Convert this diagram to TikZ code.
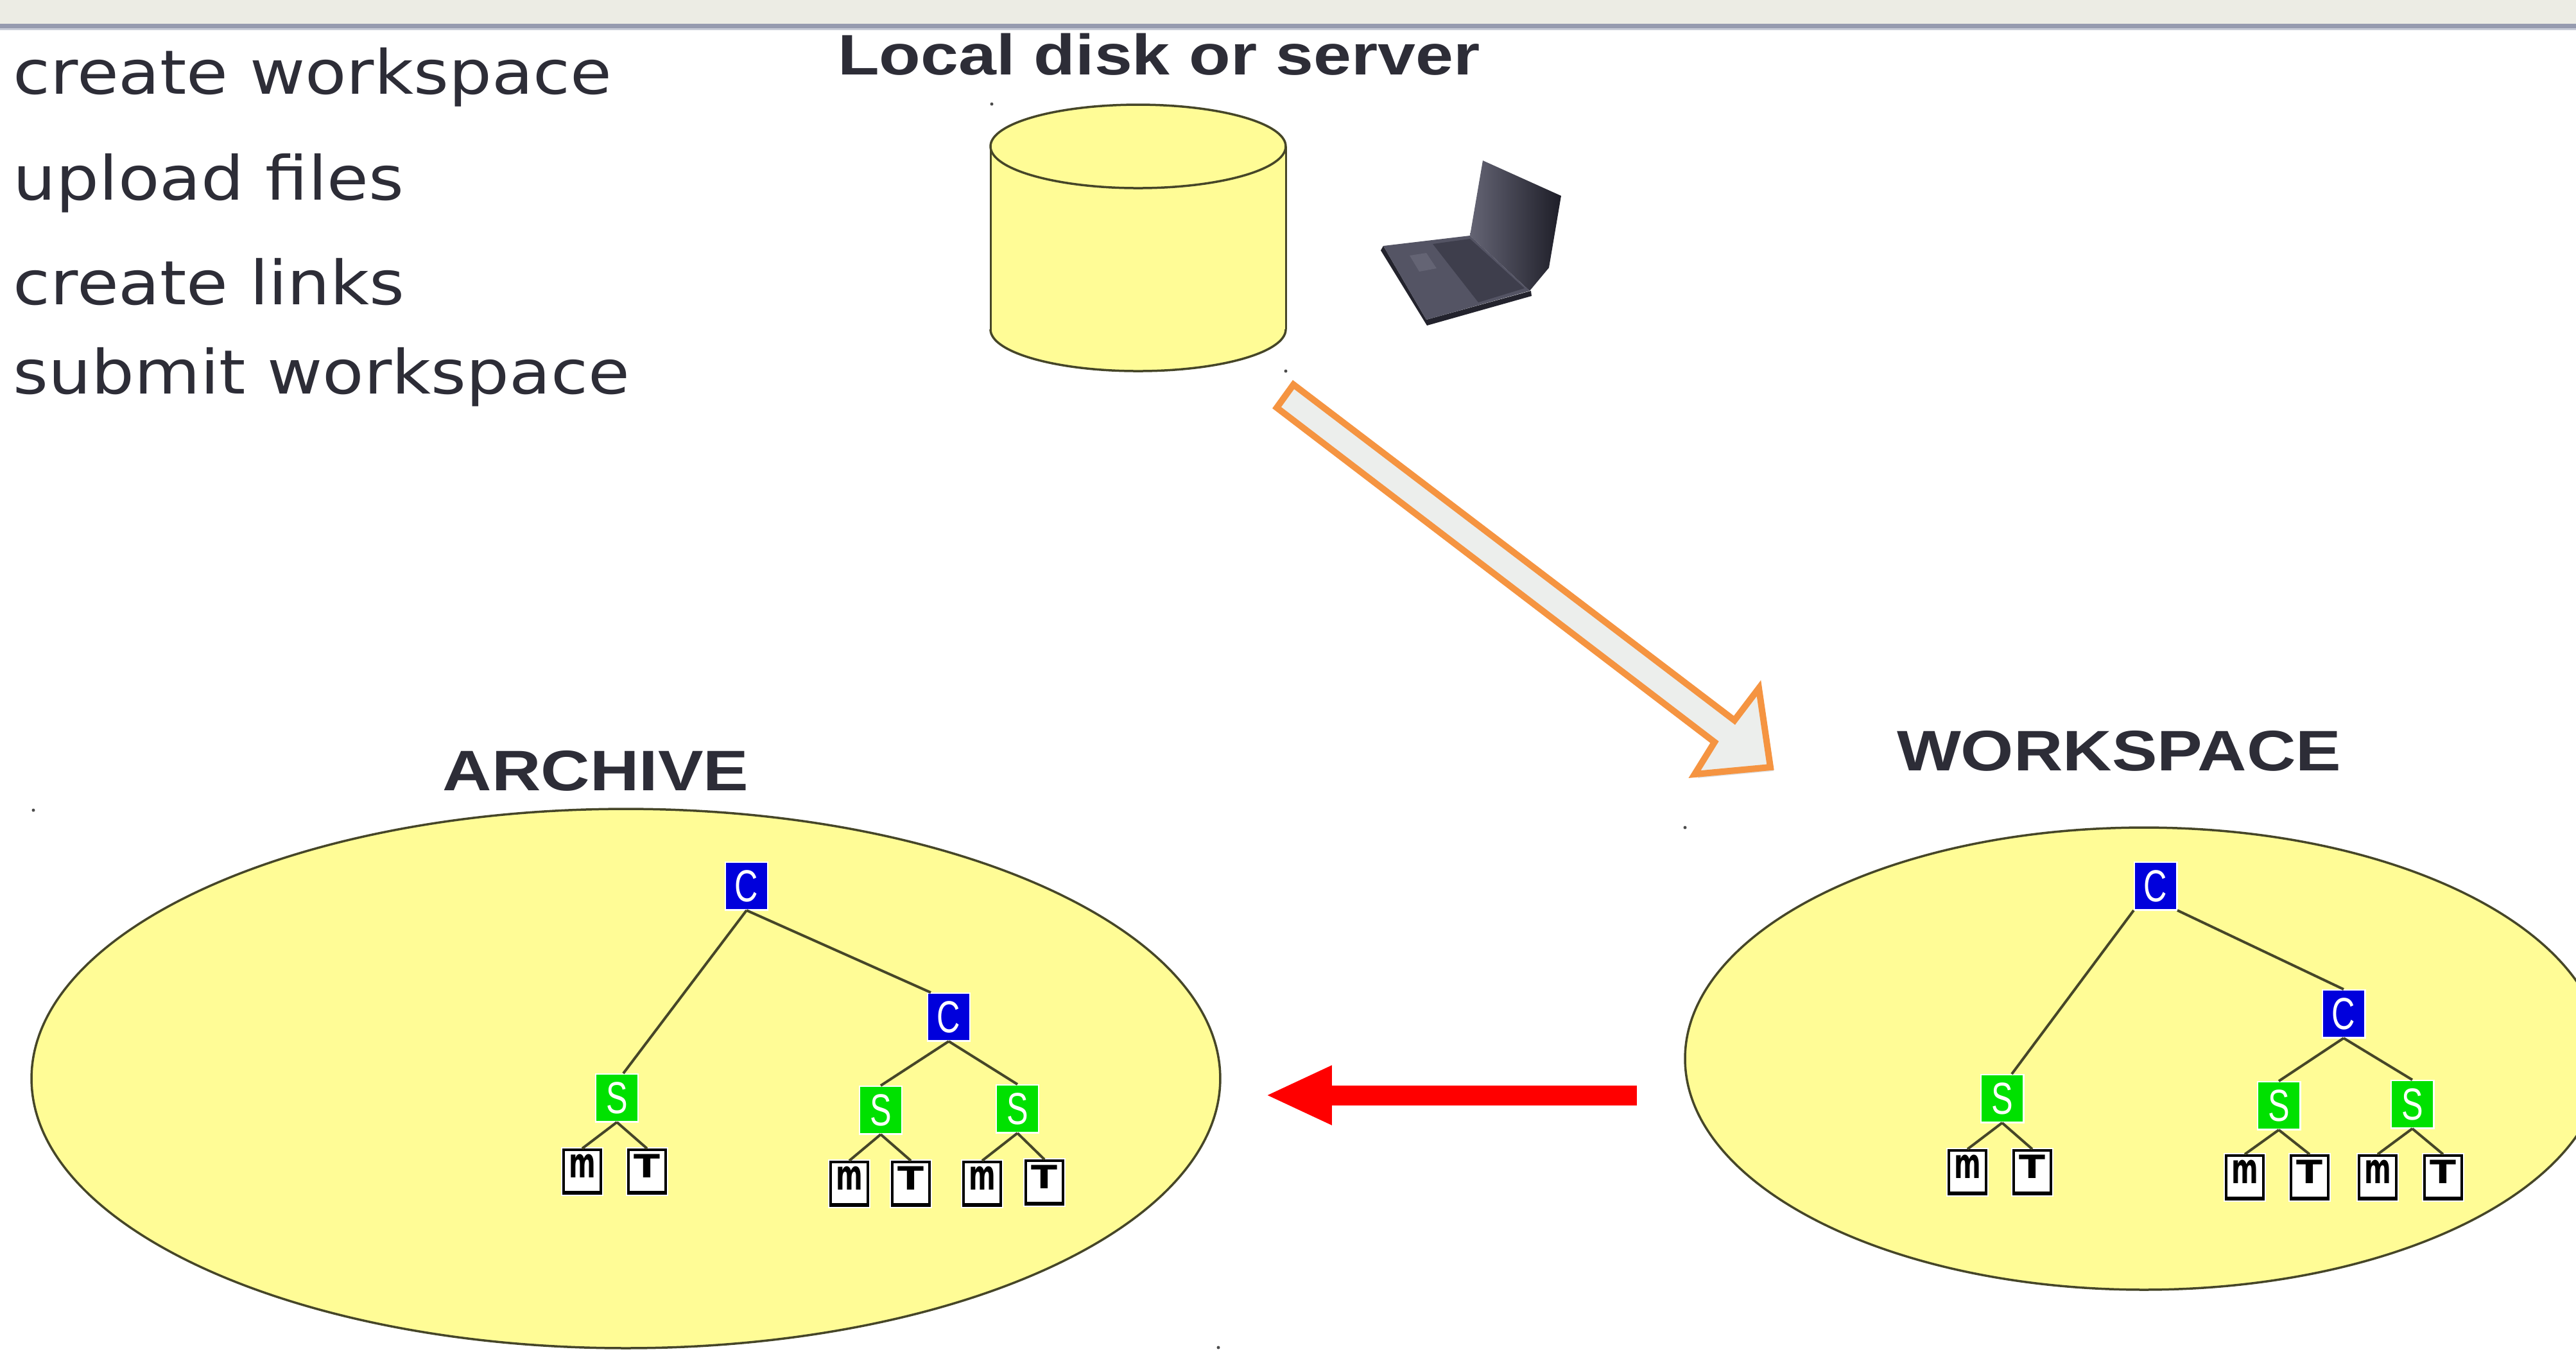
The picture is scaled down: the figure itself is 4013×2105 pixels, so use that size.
\documentclass[tikz,border=0pt]{standalone}
\usepackage{fontspec}
\usepackage{graphicx}
\usetikzlibrary{shapes.geometric,arrows.meta}
\newfontfamily\lblfont[FakeStretch=1.11]{DejaVu Sans}
\newfontfamily\ttlfont[FakeStretch=1.19]{Liberation Sans}
\newfontfamily\treefont[FakeStretch=0.72]{Liberation Sans}
\newfontfamily\leaffont{DejaVu Sans}
\definecolor{txt}{RGB}{45,45,55}
\definecolor{yel}{RGB}{255,252,150}
\definecolor{olivec}{RGB}{70,70,40}
\definecolor{cblue}{RGB}{0,0,220}
\definecolor{sgreen}{RGB}{0,225,0}
\definecolor{barc}{RGB}{236,236,228}
\definecolor{barline}{RGB}{150,155,175}
\definecolor{barlight}{RGB}{200,204,215}
\definecolor{orng}{RGB}{245,148,65}
\definecolor{arrfill}{RGB}{236,238,236}
\definecolor{redc}{RGB}{255,0,0}
\definecolor{lapA}{RGB}{100,100,116}
\definecolor{lapB}{RGB}{30,30,40}
\definecolor{lapBase}{RGB}{84,84,100}
\definecolor{lapKey}{RGB}{62,62,76}
\definecolor{lapDark}{RGB}{35,35,45}
\newcommand{\leafm}{\raisebox{-0.9pt}[0pt][0pt]{\scalebox{0.8}[1.3]{m}}}
\newcommand{\leafT}{\raisebox{-0.9pt}[0pt][0pt]{\scalebox{1.2}[1]{T}}}
\begin{document}
\begin{tikzpicture}[x=0.1pt,y=-0.1pt,
  lbl/.style={anchor=base west, inner sep=0, text=txt, font=\lblfont\fontsize{9.5}{11}\selectfont},
  ttl/.style={anchor=base west, inner sep=0, text=txt, font=\ttlfont\bfseries\fontsize{8.9}{10}\selectfont},
  cnode/.style={fill=cblue, text=white, minimum width=6.4pt, minimum height=7.2pt, inner sep=0,
    font=\treefont\fontsize{7}{8}\selectfont, preaction={draw=white,line width=0.5pt}},
  snode/.style={cnode, fill=sgreen},
  leaf/.style={fill=white, draw=black, line width=0.4pt, minimum width=5.8pt, minimum height=6.8pt, inner sep=0,
    font=\leaffont\bfseries\fontsize{5}{6}\selectfont, preaction={draw=white,line width=0.8pt},
    path picture={\draw[line width=0.8pt] (path picture bounding box.south west) -- (path picture bounding box.south east);}},
  treeline/.style={draw=olivec, line width=0.4pt},
  blob/.style={draw=olivec, line width=0.35pt, fill=yel, ellipse, inner sep=0},
  handle/.style={fill=black!70},
]
\useasboundingbox (0,0) rectangle (4013,2105);
\fill[white] (0,0) rectangle (4013,2105);
\clip (0,0) rectangle (4013,2105);

% top bar
\fill[barc] (0,0) rectangle (4013,37);
\fill[barline] (0,37) rectangle (4013,44);
\fill[barlight] (0,44) rectangle (4013,47);

% left texts
\node[lbl] (t1) at (19,146) {create workspace};
\node[lbl] (t2) at (19,311) {upload files};
\node[lbl] (t3) at (19,474) {create links};
\node[lbl] (t4) at (19,613) {submit workspace};

% titles
\node[ttl] (tdisk) at (1303,116) {Local disk or server};
\node[ttl] (tarch) at (688,1231) {ARCHIVE};
\node[ttl] (twork) at (2953,1200) {WORKSPACE};

% cylinder
\fill[yel] (1773,513) ellipse[x radius=230, y radius=65];
\fill[yel] (1543,228) rectangle (2003,513);
\draw[olivec, line width=0.3pt] (1543,228) -- (1543,513);
\draw[olivec, line width=0.3pt] (2003,228) -- (2003,513);
\begin{scope}
  \clip (1500,513) rectangle (2050,620);
  \draw[olivec, line width=0.35pt] (1773,513) ellipse[x radius=230, y radius=65];
\end{scope}
\node[blob, minimum width=46pt, minimum height=13pt] (disktop) at (1773,228) {};
\fill[handle] (1545,162) circle[radius=2.5];
\fill[handle] (2003,578) circle[radius=2.5];

% laptop
\shade[left color=lapA, right color=lapB] (2310,250) -- (2432,305) -- (2413,417) -- (2383,453) -- (2290,367) -- cycle;
\fill[lapDark] (2155,383) -- (2222,498) -- (2385,453) -- (2386,461) -- (2223,507) -- (2151,390) -- cycle;
\fill[lapBase] (2155,383) -- (2290,367) -- (2383,453) -- (2222,498) -- cycle;
\fill[lapKey] (2232,380) -- (2290,372) -- (2375,449) -- (2303,471) -- cycle;
\fill[lapA] (2196,398) -- (2222,394) -- (2238,418) -- (2211,423) -- cycle;

% orange hollow arrow
\coordinate (oa1) at (2015,599);
\coordinate (oa2) at (2702,1122);
\coordinate (oa3) at (2740,1072);
\coordinate (oa4) at (2758,1195);
\coordinate (oa5) at (2640,1206);
\coordinate (oa6) at (2671,1156);
\coordinate (oa7) at (1989,635);
\fill[black, opacity=0.12] ([shift={(5,6)}]oa1) -- ([shift={(5,6)}]oa2) -- ([shift={(5,6)}]oa3) -- ([shift={(5,6)}]oa4) -- ([shift={(5,6)}]oa5) -- ([shift={(5,6)}]oa6) -- ([shift={(5,6)}]oa7) -- cycle;
\draw[orng, line width=1pt, fill=arrfill, line join=miter] (oa1) -- (oa2) -- (oa3) -- (oa4) -- (oa5) -- (oa6) -- (oa7) -- cycle;

% ellipses
\node[blob, minimum width=185.2pt, minimum height=84pt] (archive) at (975,1680) {};
\node[blob, minimum width=143pt, minimum height=72pt] (workspace) at (3340,1649) {};
\fill[handle] (52,1262) circle[radius=2.5];
\fill[handle] (1898,2099) circle[radius=2.5];
\fill[handle] (2625,1289) circle[radius=2.5];

% red arrow
\coordinate (redtail) at (2550,1706);
\coordinate (redtip) at (1971,1706);
\draw[redc, line width=3.1pt, -{Triangle[length=10.4pt, width=8.5pt]}] (redtail) -- (redtip);

% archive tree
\node[cnode] (aC1) at (1163,1380) {C};
\node[cnode] (aC2) at (1478,1584) {C};
\node[snode] (aS1) at (961,1710) {S};
\node[snode] (aS2) at (1372,1729) {S};
\node[snode] (aS3) at (1585,1727) {S};
\node[leaf] (am1) at (907,1825) {\leafm};
\node[leaf] (aT1) at (1008,1825) {\leafT};
\node[leaf] (am2) at (1323,1844) {\leafm};
\node[leaf] (aT2) at (1419,1844) {\leafT};
\node[leaf] (am3) at (1530,1844) {\leafm};
\node[leaf] (aT3) at (1627,1842) {\leafT};
\draw[treeline] (aC1.south) -- ([xshift=1pt]aS1.north);
\draw[treeline] (aC1.south) -- ([xshift=0.6pt]aC2.north west);
\draw[treeline] (aC2.south) -- (aS2.north);
\draw[treeline] (aC2.south) -- (aS3.north);
\draw[treeline] (aS1.south) -- (am1.north);
\draw[treeline] (aS1.south) -- (aT1.north);
\draw[treeline] (aS2.south) -- (am2.north);
\draw[treeline] (aS2.south) -- (aT2.north);
\draw[treeline] (aS3.south) -- (am3.north);
\draw[treeline] (aS3.south) -- (aT3.north);

% workspace tree
\node[cnode] (wC1) at (3358,1380) {C};
\node[cnode] (wC2) at (3651,1579) {C};
\node[snode] (wS1) at (3119,1711) {S};
\node[snode] (wS2) at (3550,1722) {S};
\node[snode] (wS3) at (3758,1720) {S};
\node[leaf] (wm1) at (3065,1826) {\leafm};
\node[leaf] (wT1) at (3166,1826) {\leafT};
\node[leaf] (wm2) at (3497,1834) {\leafm};
\node[leaf] (wT2) at (3598,1834) {\leafT};
\node[leaf] (wm3) at (3704,1834) {\leafm};
\node[leaf] (wT3) at (3806,1834) {\leafT};
\draw[treeline] (wC1.south west) -- ([xshift=1.5pt]wS1.north);
\draw[treeline] (wC1.south east) -- (wC2.north);
\draw[treeline] (wC2.south) -- (wS2.north);
\draw[treeline] (wC2.south) -- (wS3.north);
\draw[treeline] (wS1.south) -- (wm1.north);
\draw[treeline] (wS1.south) -- (wT1.north);
\draw[treeline] (wS2.south) -- (wm2.north);
\draw[treeline] (wS2.south) -- (wT2.north);
\draw[treeline] (wS3.south) -- (wm3.north);
\draw[treeline] (wS3.south) -- (wT3.north);
\end{tikzpicture}
\end{document}
